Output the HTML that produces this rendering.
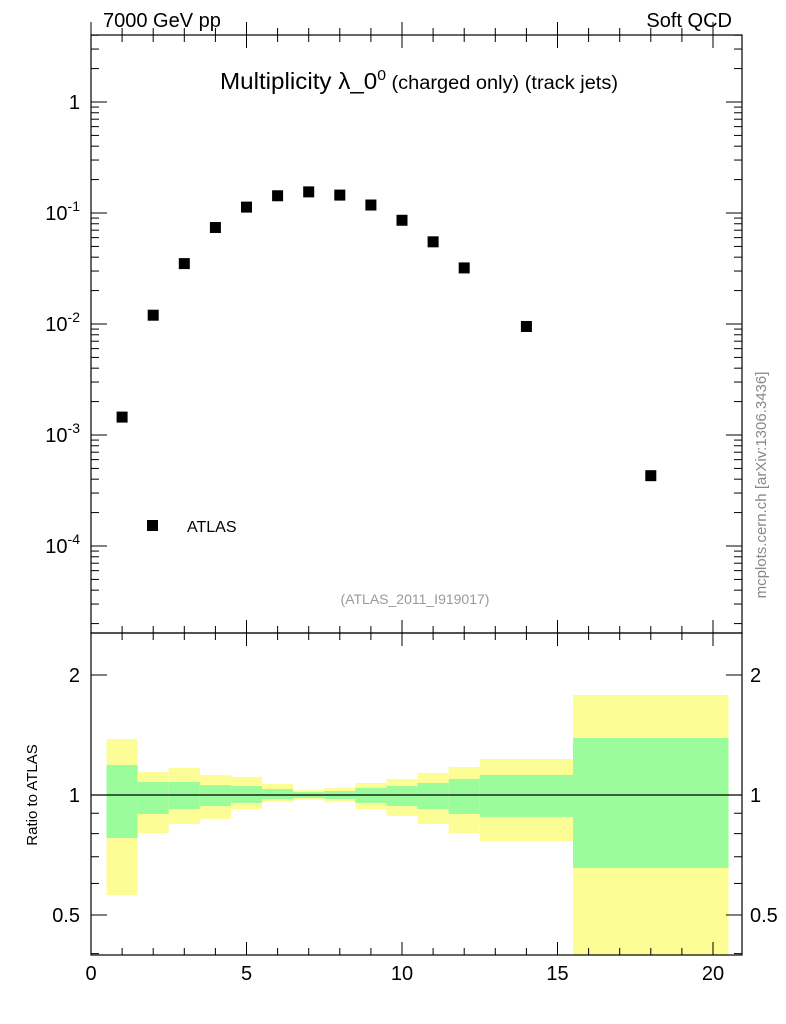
<!DOCTYPE html>
<html><head><meta charset="utf-8">
<style>
body{margin:0;background:#fff;}
svg{display:block;font-family:"Liberation Sans",sans-serif;}
</style></head>
<body>
<svg id="c" width="786" height="1024" viewBox="0 0 786 1024" xmlns="http://www.w3.org/2000/svg">
<text x="103" y="27" font-size="20">7000 GeV pp</text>
<text x="732" y="27" font-size="20" text-anchor="end">Soft QCD</text>
<text x="419" y="89" font-size="23" text-anchor="middle" textLength="398" lengthAdjust="spacingAndGlyphs">Multiplicity λ_0<tspan dy="-9" font-size="15">0</tspan><tspan dy="9" font-size="19"> (charged only) (track jets)</tspan></text>
<text x="415" y="604" font-size="14" fill="#999" text-anchor="middle">(ATLAS_2011_I919017)</text>
<text transform="translate(766,485) rotate(-90)" font-size="15" fill="#888" text-anchor="middle">mcplots.cern.ch [arXiv:1306.3436]</text>
<text transform="translate(37,795) rotate(-90)" font-size="15" text-anchor="middle">Ratio to ATLAS</text>
<rect x="147" y="520" width="11" height="11" fill="#000"/>
<text x="187" y="532" font-size="16">ATLAS</text>
<g id="g"></g>
</svg>
<script>
const xs=[1,2,3,4,5,6,7,8,9,10,11,12,14,18];
const ys=[1.45e-3,0.012,0.035,0.074,0.113,0.143,0.155,0.145,0.118,0.086,0.055,0.032,0.0095,4.3e-4];
const edges=[0.5,1.5,2.5,3.5,4.5,5.5,6.5,7.5,8.5,9.5,10.5,11.5,12.5,15.5,20.5];
const totHi=[1.382,1.142,1.169,1.123,1.110,1.066,1.029,1.041,1.072,1.097,1.136,1.176,1.231,1.782];
const totLo=[0.561,0.803,0.846,0.871,0.922,0.960,0.972,0.960,0.922,0.886,0.846,0.803,0.766,0.3];
const statHi=[1.189,1.078,1.078,1.059,1.053,1.035,1.017,1.023,1.041,1.053,1.072,1.097,1.123,1.39];
const statLo=[0.780,0.896,0.922,0.938,0.955,0.977,0.983,0.977,0.955,0.938,0.922,0.896,0.881,0.656];
const xTicks=[0,5,10,15,20];
const yTickExp=[0,-1,-2,-3,-4];
const rTicks=[0.5,1,2];

const L=91,R=742,T=35,M=633,B=955;
const X=v=>L+v*31.1;
const Y=v=>102-(Math.log10(v))*111;
const RY=v=>795-Math.log10(v)*398.6;
const g=document.getElementById('g');
const NS="http://www.w3.org/2000/svg";
function mk(t,a){const e=document.createElementNS(NS,t);for(const k in a)e.setAttribute(k,a[k]);g.appendChild(e);return e;}
edges.slice(0,-1).forEach((e,i)=>{
 const x0=X(e),x1=X(edges[i+1]);
 const lo=Math.min(RY(totLo[i]),B);
 let r=mk('rect',{x:x0,y:RY(totHi[i]),width:x1-x0,height:lo-RY(totHi[i]),fill:'#fdfd96'});
 
 
 r=mk('rect',{x:x0,y:RY(statHi[i]),width:x1-x0,height:RY(statLo[i])-RY(statHi[i]),fill:'#9afc9a'});
 
 
});
let ln=mk('line',{x1:L,x2:R,y1:RY(1),y2:RY(1),stroke:'#000','stroke-width':1.2});


xs.forEach((x,i)=>{
 const p=mk('rect',{x:X(x)-5.5,y:Y(ys[i])-5.5,width:11,height:11,fill:'#000'});
 
 
});
let f=mk('rect',{x:L,y:T,width:R-L,height:M-T,fill:'none',stroke:'#000','stroke-width':1.2});


f=mk('rect',{x:L,y:M,width:R-L,height:B-M,fill:'none',stroke:'#000','stroke-width':1.2});


const tk=(x1,y1,x2,y2)=>mk('line',{x1,y1,x2,y2,stroke:'#000','stroke-width':1});
for(let v=0;v<=20;v++){
 const maj=v%5==0,x=X(v),h=maj?13:7;
 [T,M].forEach(y=>{tk(x,y,x,y+h);tk(x,y,x,y-h);});
 tk(x,B,x,B-h);
}
xTicks.forEach(v=>{
 const t=mk('text',{x:X(v),y:B+25,'font-size':20,'text-anchor':'middle'});t.textContent=v;
 
 
});
for(let e=-5;e<=0;e++)for(let m=1;m<10;m++){
 const y=Y(m*Math.pow(10,e));if(y<T||y>M)continue;
 const h=m==1?16:8;tk(L,y,L+h,y);tk(R,y,R-h,y);
}
yTickExp.forEach(e=>{
 const t=mk('text',{x:80,y:Y(Math.pow(10,e))+7,'font-size':20,'text-anchor':'end'});
 if(e==0)t.textContent='1';else t.innerHTML='10<tspan dy="-9" font-size="14">'+e+'</tspan>';
 
 
});
[0.4,0.5,0.6,0.7,0.8,0.9,1,2].forEach(v=>{
 const y=RY(v);if(y<M||y>B)return;const h=(v==1||v==2||v==0.5)?16:8;
 tk(L,y,L+h,y);tk(R,y,R-h,y);
});
rTicks.forEach(v=>{
 [[80,'end'],[750,'start']].forEach(([x,a])=>{
 const t=mk('text',{x,y:RY(v)+7,'font-size':20,'text-anchor':a});t.textContent=v;
 
 
 });
});
</script>
</body></html>
